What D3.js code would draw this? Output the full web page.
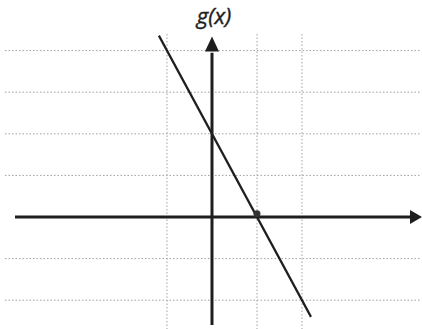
<!DOCTYPE html>
<html>
<head>
<meta charset="utf-8">
<script src="https://cdn.jsdelivr.net/npm/d3@7"></script>
<style>
  html, body { margin: 0; padding: 0; background: #fff; }
  svg { display: block; }
</style>
</head>
<body>
<script>
// Grid positions (in graph units)
const gridX = [-1, 1, 2];
const gridY = [-2, -1, 1, 2, 3, 4];
// Line g(x): endpoints of the drawn segment
const lineX = [-1.18, 2.2];
const lineY = [4.36, -2.4];
// Highlighted point where g crosses the x-axis
const zeroPoint = [1, 0.08];
const label = "g(x)";

const W = 422, H = 329;
const svg = d3.select("body").append("svg").attr("width", W).attr("height", H);

const x = d3.scaleLinear().domain([-4.711, 4.667]).range([0, W]);
const y = d3.scaleLinear().domain([5.216, -2.692]).range([0, H]);

// dotted grid
const grid = svg.append("g").attr("stroke", "#a0a0a0").attr("stroke-width", 1)
  .attr("stroke-dasharray", "1.5,2");
grid.selectAll("line.h").data(gridY).join("line").attr("class", "h")
  .attr("x1", 5).attr("x2", 420)
  .attr("y1", d => y(d)).attr("y2", d => y(d));
grid.selectAll("line.v").data(gridX).join("line").attr("class", "v")
  .attr("x1", d => x(d)).attr("x2", d => x(d))
  .attr("y1", y(4.4)).attr("y2", H);

const ink = "#1e1e1e";
// x-axis with arrow
svg.append("line").attr("x1", 15).attr("x2", x(4.45))
  .attr("y1", y(0)).attr("y2", y(0)).attr("stroke", ink).attr("stroke-width", 3);
svg.append("path")
  .attr("d", `M${W},${y(0)} L${x(4.4)},${y(0) - 7} L${x(4.4)},${y(0) + 7} Z`)
  .attr("fill", ink);
// y-axis with arrow
svg.append("line").attr("x1", x(0)).attr("x2", x(0))
  .attr("y1", 325).attr("y2", y(3.95)).attr("stroke", ink).attr("stroke-width", 3);
svg.append("path")
  .attr("d", `M${x(0)},${y(4.34)} L${x(0) - 7},${y(3.98)} L${x(0) + 7},${y(3.98)} Z`)
  .attr("fill", ink);

// the line
svg.append("line")
  .attr("x1", x(lineX[0])).attr("y1", y(lineY[0]))
  .attr("x2", x(lineX[1])).attr("y2", y(lineY[1]))
  .attr("stroke", ink).attr("stroke-width", 2.2);

svg.append("circle").attr("cx", x(zeroPoint[0])).attr("cy", y(zeroPoint[1]))
  .attr("r", 3.5).attr("fill", "#333");

svg.append("text").attr("x", x(0) + 2).attr("y", 24)
  .attr("text-anchor", "middle")
  .attr("font-family", "'Open Sans', sans-serif").attr("font-style", "italic")
  .attr("font-size", 22).attr("fill", ink)
  .attr("stroke", ink).attr("stroke-width", 0.4)
  .text(label);
</script>
</body>
</html>
